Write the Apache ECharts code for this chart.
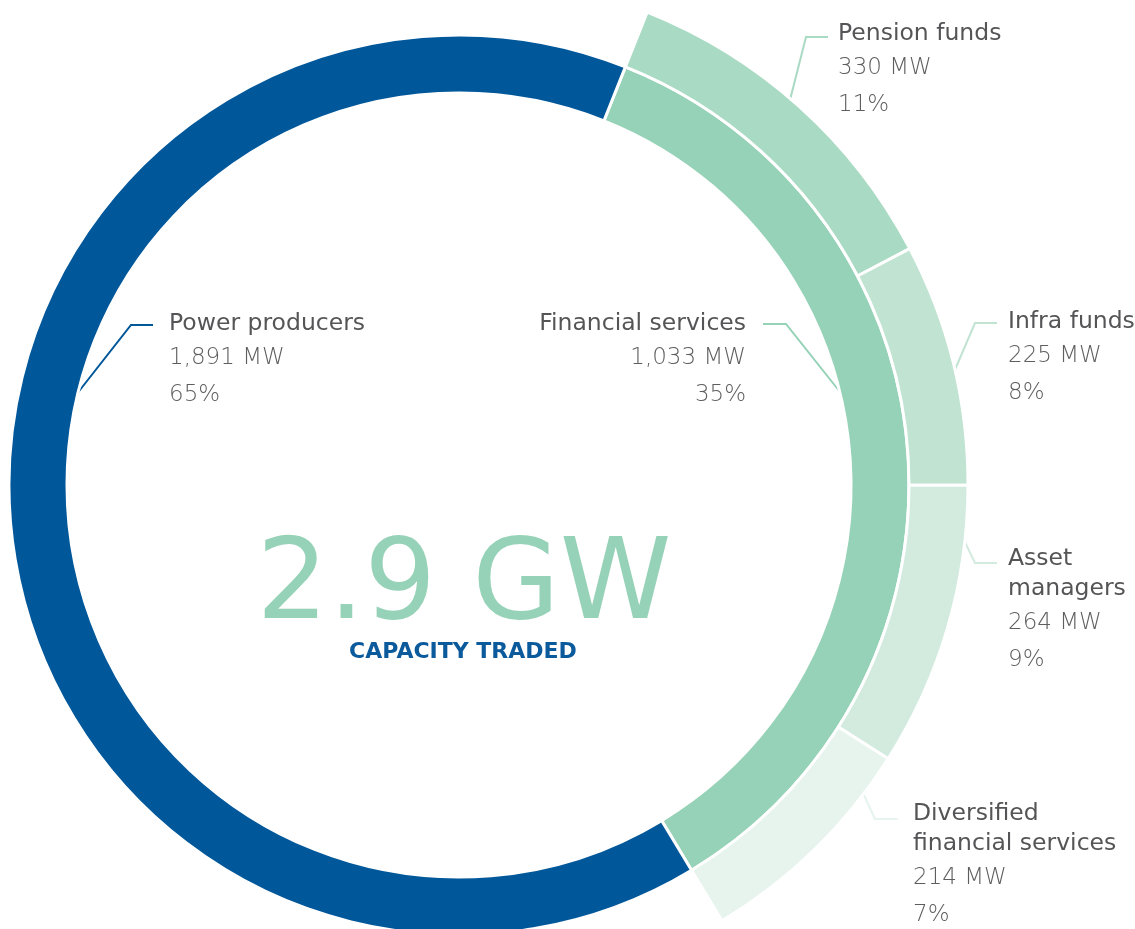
<!DOCTYPE html>
<html>
<head>
<meta charset="utf-8">
<script src="https://cdn.jsdelivr.net/npm/echarts@6/dist/echarts.min.js"></script>
<style>
  html, body { margin: 0; padding: 0; background: #fff; }
  #chart { width: 1135px; height: 929px; }
</style>
</head>
<body>
<div id="chart"></div>
<script>
// inner ring: the two buyer groups
const groupNames = ['Financial services', 'Power producers']
const groupValues = [1033, 1891]

// outer ring: breakdown of financial services
const subNames = ['Pension funds', 'Infra funds', 'Asset\nmanagers', 'Diversified\nfinancial services']
const subValues = [330, 225, 264, 214]

const totalLabel = '2.9 GW'
const totalCaption = 'CAPACITY TRADED'

const BLUE = '#00579a'
const GREEN = '#96d2b7'
const groupColors = [GREEN, BLUE]
const subColors = ['#a9dac3', '#c0e3d2', '#d3ebdf', '#e6f4ed']

const FONT = '"DejaVu Sans", "Open Sans", sans-serif'
const CX = 459
const CY = 485

const total = groupValues.reduce((a, b) => a + b, 0)

// label anchor and leader line for each slice (x, y = top of label block)
const groupLabelPos = [
  { x: 746, y: 309, align: 'right', line: [[844, 397], [786, 324], [763, 324]] },
  { x: 169, y: 309, align: 'left', line: [[76, 395], [131, 325], [153, 325]] }
]
const subLabelPos = [
  { x: 838, y: 19, line: [[790, 100], [806, 37], [828, 37]] },
  { x: 1008, y: 307, line: [[954, 372], [975, 323], [997, 323]] },
  { x: 1008, y: 544, line: [[963, 538], [975, 563], [997, 563]] },
  { x: 913, y: 799, line: [[863, 793], [875, 819], [898, 819]] }
]

const rich = {
  name: { fontFamily: FONT, fontSize: 23.5, color: '#555557', lineHeight: 30 },
  val: { fontFamily: FONT, fontSize: 23, fontWeight: 200, color: '#5e5e60', lineHeight: 38 },
  pct: { fontFamily: FONT, fontSize: 23, fontWeight: 200, color: '#5e5e60', lineHeight: 37 }
}

function labelText(name, value) {
  const pct = Math.round((value / total) * 100)
  return `{name|${name}}\n{val|${value.toLocaleString('en-US')} MW}\n{pct|${pct}%}`
}

const labelOpt = {
  show: true,
  overflow: 'none',
  formatter: (p) => labelText(p.name, p.value),
  rich
}

const chart = echarts.init(document.getElementById('chart'))

chart.setOption({
  backgroundColor: '#fff',
  animation: false,
  series: [
    {
      type: 'pie',
      center: [CX, CY],
      radius: [392, 450],
      startAngle: 68.3,
      clockwise: true,
      silent: true,
      avoidLabelOverlap: false,
      itemStyle: { borderColor: '#fff', borderWidth: 3 },
      label: labelOpt,
      labelLine: { show: true, lineStyle: { width: 2 } },
      labelLayout: (p) => {
        const pos = groupLabelPos[p.dataIndex]
        return {
          x: pos.x,
          y: pos.y,
          align: pos.align,
          verticalAlign: 'top',
          labelLinePoints: pos.line
        }
      },
      data: groupNames.map((name, i) => ({
        name,
        value: groupValues[i],
        itemStyle: { color: groupColors[i] },
        labelLine: { lineStyle: { color: groupColors[i] } }
      }))
    },
    {
      type: 'pie',
      center: [CX, CY],
      radius: [450, 509],
      startAngle: 68.3,
      clockwise: true,
      silent: true,
      avoidLabelOverlap: false,
      itemStyle: { borderColor: '#fff', borderWidth: 3 },
      label: labelOpt,
      labelLine: { show: true, lineStyle: { width: 2 } },
      labelLayout: (p) => {
        const pos = subLabelPos[p.dataIndex]
        if (!pos) return {}
        return {
          x: pos.x,
          y: pos.y,
          align: 'left',
          verticalAlign: 'top',
          labelLinePoints: pos.line
        }
      },
      data: subNames
        .map((name, i) => ({
          name,
          value: subValues[i],
          itemStyle: { color: subColors[i] },
          labelLine: { lineStyle: { color: subColors[i] } }
        }))
        // rest of the circle stays empty (power producers)
        .concat([{
          name: 'rest',
          value: groupValues[1],
          itemStyle: { color: 'transparent', borderWidth: 0 },
          label: { show: false },
          labelLine: { show: false }
        }])
    }
  ],
  graphic: [
    {
      type: 'text',
      x: 464,
      y: 589,
      silent: true,
      style: {
        text: totalLabel,
        fill: GREEN,
        font: '400 113px "DejaVu Sans", sans-serif',
        align: 'center',
        verticalAlign: 'middle'
      }
    },
    {
      type: 'text',
      x: 463,
      y: 652,
      silent: true,
      style: {
        text: totalCaption,
        fill: '#0b5a9c',
        font: '700 22px "DejaVu Sans", sans-serif',
        align: 'center',
        verticalAlign: 'middle'
      }
    }
  ]
})
</script>
</body>
</html>
